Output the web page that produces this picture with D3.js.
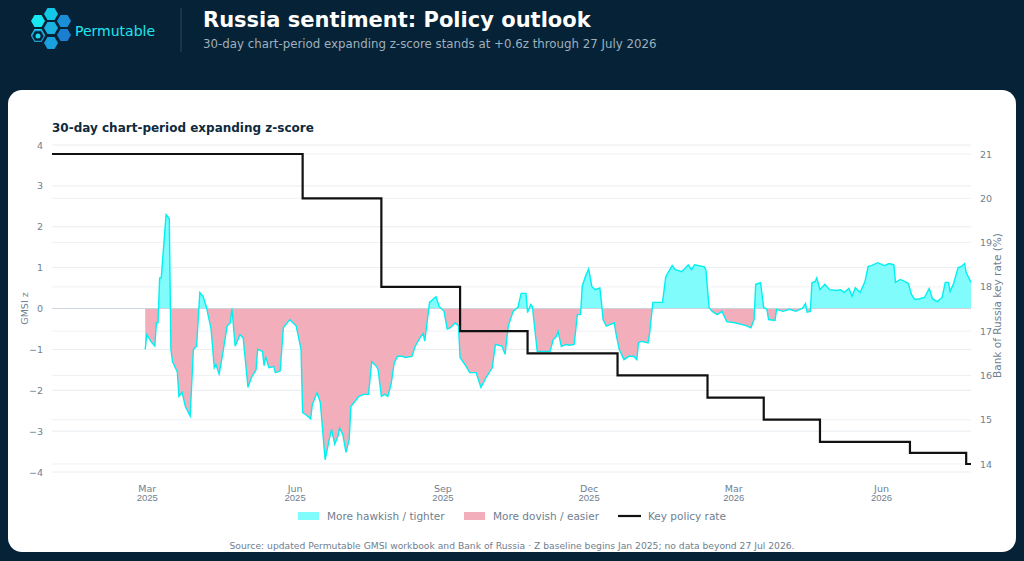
<!DOCTYPE html>
<html>
<head>
<meta charset="utf-8">
<script src="https://cdn.jsdelivr.net/npm/d3@7"></script>
<style>
  body { margin: 0; background: #062236; font-family: "DejaVu Sans", sans-serif; }
  svg { display: block; }
</style>
</head>
<body>
<svg id="chart" width="1024" height="561"></svg>
<script>
// days since 1 Jan 2025 and the 30-day expanding z-score
const zDays = [58,59,62,64,65,66,67,68,71,73,74,75,78,79,81,83,86,88,90,92,94,96,99,101,102,104,106,109,111,112,114,117,119,122,124,127,128,131,132,133,135,138,139,142,144,147,148,152,155,156,158,161,162,165,167,170,173,174,176,178,179,181,183,185,186,188,191,194,197,199,202,203,205,207,209,211,213,215,218,220,224,226,229,231,232,235,237,239,241,244,246,248,251,253,254,257,260,264,267,270,274,276,280,282,284,287,290,292,295,296,298,299,301,302,304,310,312,314,315,317,320,322,325,327,329,330,332,334,336,338,341,342,343,345,350,351,353,356,359,362,364,365,367,371,372,374,376,380,382,386,388,392,396,398,400,406,407,409,411,414,417,420,425,429,432,435,437,438,441,443,445,446,450,451,455,459,463,467,469,470,472,473,475,476,478,481,484,488,491,493,496,498,500,503,506,508,510,514,518,521,524,525,528,531,533,535,537,540,543,546,548,551,554,556,558,559,561,564,566,568,569,572];
const zVals = [-1.0,-0.64,-0.83,-0.92,-0.35,-0.35,0.75,0.75,2.3,2.2,-1.0,-1.3,-1.55,-2.15,-2.05,-2.4,-2.63,-1.0,-0.93,0.39,0.3,0.05,-0.5,-1.45,-1.37,-1.6,-1.17,-0.43,-0.35,0,-0.92,-0.64,-0.72,-1.93,-1.7,-1.5,-1.0,-1.05,-1.4,-1.17,-1.45,-1.42,-1.57,-1.53,-0.47,-0.32,-0.27,-0.43,-1.0,-2.55,-2.6,-2.7,-2.35,-2.06,-2.3,-3.7,-3.12,-2.96,-3.32,-3.12,-2.92,-3.08,-3.52,-3.2,-2.4,-2.3,-2.15,-2.1,-2.1,-1.3,-1.42,-1.5,-2.15,-2.1,-2.15,-1.86,-1.33,-1.17,-1.17,-1.2,-1.17,-0.93,-0.72,-0.61,-0.8,0.15,0.22,0.29,0.05,-0.07,-0.5,-0.47,-0.35,-0.43,-1.2,-1.37,-1.57,-1.57,-1.93,-1.7,-1.45,-0.88,-0.92,-1.12,-0.43,-0.07,0.03,0.37,0.37,-0.1,0.1,0.05,-0.68,-1.05,-1.05,-1.05,-0.76,-0.68,-0.56,-0.93,-0.88,-0.9,-0.88,-0.15,-0.15,0.54,0.78,0.97,0.54,0.46,0.5,0.15,-0.27,-0.43,-0.35,-0.6,-1.0,-1.25,-1.17,-1.17,-1.25,-0.84,-0.8,-0.84,-0.6,0.15,0.15,0.15,0.78,1.05,0.95,0.9,1.07,0.95,1.07,1.02,0.95,0.02,-0.07,-0.15,-0.07,-0.32,-0.35,-0.39,-0.42,-0.47,-0.27,0.59,0.63,0.02,-0.02,-0.27,-0.29,-0.02,-0.07,-0.02,-0.07,0,0.12,-0.09,-0.07,0.63,0.66,0.75,0.46,0.59,0.46,0.44,0.46,0.39,0.49,0.3,0.51,0.39,0.66,1.03,1.05,1.12,1.05,1.1,1.07,0.64,0.71,0.66,0.61,0.34,0.22,0.24,0.27,0.49,0.24,0.17,0.27,0.64,0.64,0.42,0.59,1.0,1.03,1.1,0.88,0.64];

// Bank of Russia key rate steps
const rateDates = ["2025-01-01","2025-06-06","2025-07-25","2025-09-12","2025-10-24","2025-12-19","2026-02-13","2026-03-20","2026-04-24","2026-06-19","2026-07-24","2026-07-27"];
const rateVals = [21,20,18,17,16.5,16,15.5,15,14.5,14.25,14,14];

const zTicks = [-4,-3,-2,-1,0,1,2,3,4];
const rateTicks = [14,15,16,17,18,19,20,21];
const xTickDates = ["2025-03-01","2025-06-01","2025-09-01","2025-12-01","2026-03-01","2026-06-01"];

const parse = d3.timeParse("%Y-%m-%d");
const start = parse("2025-01-01");
const zData = zDays.map((d, i) => ({ date: d3.timeDay.offset(start, d), v: zVals[i] }));
const rateData = rateDates.map((d, i) => ({ date: parse(d), v: rateVals[i] }));

const svg = d3.select("#chart");
const pl = 52, pr = 971, pt = 145, pb = 472;

// header
const hex = (cx, cy, r) => d3.range(6).map(k => {
  const a = Math.PI / 3 * k;
  return [cx + r * Math.cos(a), cy + r * Math.sin(a)];
});
const logo = [[38,21,"#19e6f0"],[51,14,"#12c8e8"],[51,28,"#1ab0e0"],[64,21,"#1a8fd8"],[64,35,"#1a7fd0"],[51,43,"#1aa0dc"],[38,35,"#22d8ee"]];
logo.forEach(([cx, cy, c]) => {
  svg.append("polygon").attr("points", hex(cx, cy, 7).join(" ")).attr("fill", c);
});
svg.append("polygon").attr("points", hex(38, 36, 6.3).join(" "))
  .attr("fill", "#062236").attr("stroke", "#1a9fd8").attr("stroke-width", 1.2);
svg.append("circle").attr("cx", 38).attr("cy", 36).attr("r", 2.5).attr("fill", "#1ad8ee");
svg.append("text").attr("x", 75).attr("y", 36).attr("fill", "#1ee6f0")
  .attr("font-size", 14).text("Permutable");
svg.append("line").attr("x1", 181).attr("x2", 181).attr("y1", 8).attr("y2", 52)
  .attr("stroke", "#2c4658").attr("stroke-width", 1);
svg.append("text").attr("x", 203).attr("y", 27).attr("fill", "#fff")
  .attr("font-size", 21).attr("font-weight", "bold").text("Russia sentiment: Policy outlook");
svg.append("text").attr("x", 203).attr("y", 48).attr("fill", "#9fb0bd")
  .attr("font-size", 11.8).text("30-day chart-period expanding z-score stands at +0.6z through 27 July 2026");

// card
svg.append("rect").attr("x", 8).attr("y", 90).attr("width", 1008).attr("height", 462)
  .attr("rx", 14).attr("fill", "#fff");

svg.append("text").attr("x", 52).attr("y", 132).attr("fill", "#0f2a3d")
  .attr("font-size", 12).attr("font-weight", "bold").text("30-day chart-period expanding z-score");

const x = d3.scaleTime().domain([start, parse("2026-07-27")]).range([pl, pr]);
const y = d3.scaleLinear().domain([-4, 4]).range([pb, pt]);
const y2 = d3.scaleLinear().domain([14, 21]).range([464, 154]);

const g = svg.append("g");
// grid
g.selectAll(".gz").data(zTicks).join("line")
  .attr("x1", pl).attr("x2", pr).attr("y1", d => y(d)).attr("y2", d => y(d))
  .attr("stroke", "#e8ecf0");
g.selectAll(".gr").data(rateTicks).join("line")
  .attr("x1", pl).attr("x2", pr).attr("y1", d => y2(d)).attr("y2", d => y2(d))
  .attr("stroke", "#eef1f4");

// axes
const tickStyle = sel => {
  sel.select(".domain").remove();
  sel.selectAll(".tick line").remove();
  sel.selectAll("text").attr("fill", "#6f8090").attr("font-size", 9.5)
    .attr("font-family", "DejaVu Sans, sans-serif");
};
svg.append("g").attr("transform", `translate(${pl - 6},0)`)
  .call(d3.axisLeft(y).tickValues(zTicks).tickFormat(d => d < 0 ? "\u2212" + Math.abs(d) : d).tickSize(0))
  .call(tickStyle);
svg.append("g").attr("transform", `translate(${pr + 6},0)`)
  .call(d3.axisRight(y2).tickValues(rateTicks).tickFormat(d3.format("d")).tickSize(0))
  .call(tickStyle);
const xa = svg.append("g").attr("transform", `translate(0,${pb + 10})`)
  .call(d3.axisBottom(x).tickValues(xTickDates.map(parse)).tickFormat(d3.timeFormat("%b")).tickSize(0))
  .call(tickStyle);
xa.selectAll(".tick").append("text").attr("y", 12).attr("dy", "0.71em")
  .attr("text-anchor", "middle").attr("fill", "#6f8090").attr("font-size", 9.5)
  .text(d => d3.timeFormat("%Y")(d));

svg.append("text").attr("transform", `translate(28,${(pt + pb) / 2}) rotate(-90)`)
  .attr("text-anchor", "middle").attr("fill", "#6f8090").attr("font-size", 9.5).text("GMSI z");
svg.append("text").attr("transform", `translate(1001,${(pt + pb) / 2 - 3}) rotate(-90)`)
  .attr("text-anchor", "middle").attr("fill", "#6f8090").attr("font-size", 10.5).text("Bank of Russia key rate (%)");

// areas clipped above/below zero
const defs = svg.append("defs");
defs.append("clipPath").attr("id", "above").append("rect")
  .attr("x", pl).attr("y", pt - 20).attr("width", pr - pl).attr("height", y(0) - pt + 20);
defs.append("clipPath").attr("id", "below").append("rect")
  .attr("x", pl).attr("y", y(0)).attr("width", pr - pl).attr("height", pb - y(0) + 20);
const area = d3.area().x(d => x(d.date)).y0(y(0)).y1(d => y(d.v));
g.append("path").datum(zData).attr("d", area).attr("fill", "#80fcfc").attr("clip-path", "url(#above)");
g.append("path").datum(zData).attr("d", area).attr("fill", "#f2aebb").attr("clip-path", "url(#below)");
g.append("line").attr("x1", pl).attr("x2", pr).attr("y1", y(0)).attr("y2", y(0))
  .attr("stroke", "#c8d0d8").attr("stroke-width", 0.8);
g.append("path").datum(zData)
  .attr("d", d3.line().x(d => x(d.date)).y(d => y(d.v)))
  .attr("fill", "none").attr("stroke", "#00f0f0").attr("stroke-width", 1.4);
g.append("path").datum(rateData)
  .attr("d", d3.line().curve(d3.curveStepAfter).x(d => x(d.date)).y(d => y2(d.v)))
  .attr("fill", "none").attr("stroke", "#111").attr("stroke-width", 2.2);

// legend
const lg = svg.append("g").attr("font-size", 10.5).attr("fill", "#6f8090");
lg.append("rect").attr("x", 298).attr("y", 512).attr("width", 21).attr("height", 8).attr("fill", "#80fcfc");
lg.append("text").attr("x", 327).attr("y", 520).text("More hawkish / tighter");
lg.append("rect").attr("x", 464).attr("y", 512).attr("width", 21).attr("height", 8).attr("fill", "#f2aebb");
lg.append("text").attr("x", 493).attr("y", 520).text("More dovish / easier");
lg.append("line").attr("x1", 618).attr("x2", 641).attr("y1", 516).attr("y2", 516).attr("stroke", "#111").attr("stroke-width", 2.2);
lg.append("text").attr("x", 648).attr("y", 520).text("Key policy rate");

svg.append("text").attr("x", 512).attr("y", 549).attr("text-anchor", "middle")
  .attr("fill", "#6f8090").attr("font-size", 9.2)
  .text("Source: updated Permutable GMSI workbook and Bank of Russia \u00b7 Z baseline begins Jan 2025; no data beyond 27 Jul 2026.");
</script>
</body>
</html>
